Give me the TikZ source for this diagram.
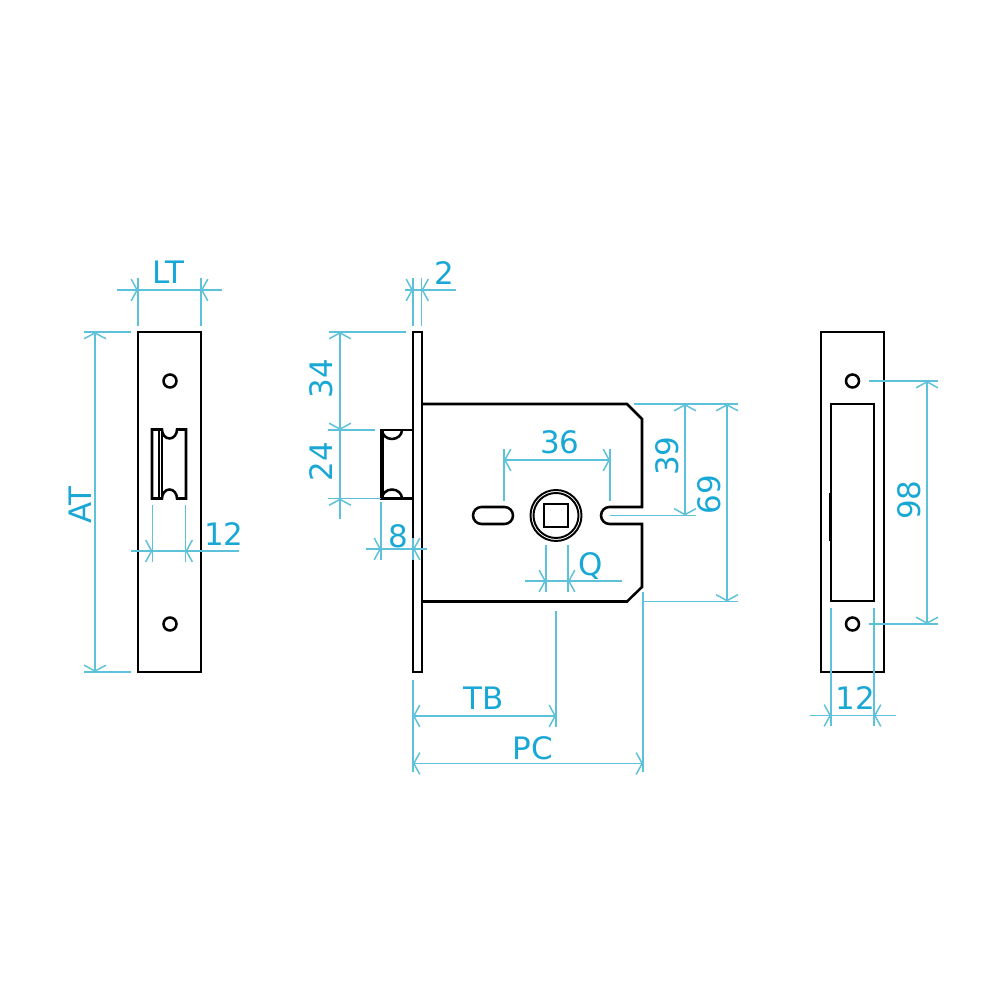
\documentclass[tikz,border=0pt]{standalone}
\usepackage{fontspec}
\setmainfont{DejaVu Sans}
\usetikzlibrary{arrows.meta}
\definecolor{dimcolor}{HTML}{5CC1D9}
\definecolor{labelcolor}{HTML}{19A8D6}
\tikzset{
  part/.style={black,line width=0.72pt},
  dimline/.style={dimcolor,line width=0.42pt},
  dimlabel/.style={labelcolor,inner sep=0,font=\fontsize{8.8}{10}\selectfont},
  >={Straight Barb[length=1.7pt,width=6.2pt]}
}
\begin{document}
\begin{tikzpicture}[x=0.01cm,y=-0.01cm]
\useasboundingbox (0,0) rectangle (1000,983);
% left plate
\draw[part] (138,332) rectangle (201,672);
\draw[part] (170,381) circle[radius=6.5];
\draw[part] (170,624) circle[radius=6.5];
\draw[part] (152,429.5) -- (162,429.5) arc[start angle=180,end angle=0,x radius=7.5,y radius=9] -- (186,429.5) -- (186,498.5) -- (177,498.5) arc[start angle=360,end angle=180,x radius=7.5,y radius=9] -- (152,498.5) -- cycle;
\draw[part,line width=0.4pt] (159,429.5) -- (159,498.5);
\draw[part,line width=0.4pt] (162,429.5) -- (162,498.5);
% left plate dimensions
\draw[dimline] (138,278) -- (138,326);
\draw[dimline] (201,278) -- (201,326);
\draw[dimline] (138,290) -- (201,290);
\draw[dimline,->] (117,290) -- (138,290);
\draw[dimline,->] (222,290) -- (201,290);
\node[dimlabel] (lt) at (168,272) {LT};
\draw[dimline] (84,332) -- (131,332);
\draw[dimline] (84,672) -- (131,672);
\draw[dimline,<->] (95,332) -- (95,672);
\node[dimlabel,rotate=90] (at) at (80,505) {AT};
\draw[dimline] (152.5,505) -- (152.5,562);
\draw[dimline] (185.5,505) -- (185.5,562);
\draw[dimline] (152.5,551) -- (185.5,551);
\draw[dimline,->] (131,551) -- (152.5,551);
\draw[dimline,->] (239,551) -- (185.5,551);
\node[dimlabel] (latch) at (224,534) {12};
% lock body
\draw[part] (413,332) rectangle (422,672);
\draw[part] (422,404) -- (627,404) -- (642,419) -- (642,507) -- (609.5,507) arc[start angle=270,end angle=90,radius=8.5] -- (642,524) -- (642,587) -- (627,601.5) -- (422,601.5);
\draw[part] (481.5,507) -- (504.5,507) arc[start angle=270,end angle=450,radius=8.5] -- (481.5,524) arc[start angle=90,end angle=270,radius=8.5] -- cycle;
\draw[part,line width=0.55pt] (556,515.5) circle[radius=25.5];
\draw[part,line width=0.55pt] (556,515.5) circle[radius=22.5];
\draw[part] (544,504) rectangle (568,527);
% latch
\draw[part] (413,430) -- (381,430) -- (381,498.5) -- (413,498.5);
\draw[part] (383,430) -- (383,498.5);
\draw[part] (382,430) arc[start angle=180,end angle=0,x radius=10,y radius=9];
\draw[part] (382,498.5) arc[start angle=180,end angle=360,x radius=10,y radius=9];
% lock dimensions
\draw[dimline] (413,278) -- (413,326);
\draw[dimline] (421.5,278) -- (421.5,326);
\draw[dimline] (413,290) -- (421.5,290);
\draw[dimline,->] (405,290) -- (413,290);
\draw[dimline,->] (456,290) -- (421.5,290);
\node[dimlabel] (plate) at (444,273) {2};
\draw[dimline] (329,332) -- (406,332);
\draw[dimline] (328,430) -- (375,430);
\draw[dimline] (328,498.5) -- (381,498.5);
\draw[dimline,<->] (340,332) -- (340,430);
\draw[dimline,->] (340,519) -- (340,498.5);
\draw[dimline] (340,430) -- (340,498.5);
\node[dimlabel,rotate=90] (upper) at (321,379) {34};
\node[dimlabel,rotate=90] (lower) at (321,462) {24};
\draw[dimline] (381,502) -- (381,560);
\draw[dimline] (413,538) -- (413,560);
\draw[dimline] (381,549) -- (413,549);
\draw[dimline,->] (366,549) -- (381,549);
\draw[dimline,->] (427,549) -- (413,549);
\node[dimlabel] (throw) at (398,536) {8};
\draw[dimline] (504,449) -- (504,501);
\draw[dimline] (610,449) -- (610,501);
\draw[dimline,<->] (504,460) -- (610,460);
\node[dimlabel] (spindle) at (560,442) {36};
\draw[dimline] (546,545) -- (546,592);
\draw[dimline] (568,545) -- (568,592);
\draw[dimline] (546,581) -- (568,581);
\draw[dimline,->] (525,581) -- (546,581);
\draw[dimline,->] (622,581) -- (568,581);
\node[dimlabel] (q) at (591,566) {Q};
\draw[dimline] (634,404) -- (738,404);
\draw[dimline] (610,515.5) -- (696,515.5);
\draw[dimline] (643,601.5) -- (738,601.5);
\draw[dimline,<->] (685,404) -- (685,515.5);
\draw[dimline,<->] (727,404) -- (727,601.5);
\node[dimlabel,rotate=90] (notch) at (667,456) {39};
\node[dimlabel,rotate=90] (body) at (709,495) {69};
\draw[dimline] (413,680) -- (413,772);
\draw[dimline] (556,611) -- (556,727);
\draw[dimline] (643,592) -- (643,772);
\draw[dimline,<->] (413,716) -- (556,716);
\draw[dimline,<->] (413,763.5) -- (643,763.5);
\node[dimlabel] (tb) at (484,698) {TB};
\node[dimlabel] (pc) at (533,748) {PC};
% right plate
\draw[part] (821,332) rectangle (884,672);
\draw[part] (831,404) rectangle (874,601);
\draw[part] (852.5,381) circle[radius=6.5];
\draw[part] (852.5,624) circle[radius=6.5];
\draw[part] (830,493) -- (830,541);
% right plate dimensions
\draw[dimline] (869,381) -- (938,381);
\draw[dimline] (869,624) -- (938,624);
\draw[dimline,<->] (927,381) -- (927,624);
\node[dimlabel,rotate=90] (holes) at (909,500) {98};
\draw[dimline] (831,608) -- (831,726);
\draw[dimline] (874,608) -- (874,726);
\draw[dimline] (831,715.5) -- (874,715.5);
\draw[dimline,->] (810,715.5) -- (831,715.5);
\draw[dimline,->] (896,715.5) -- (874,715.5);
\node[dimlabel] (recess) at (855,698) {12};
\end{tikzpicture}
\end{document}
